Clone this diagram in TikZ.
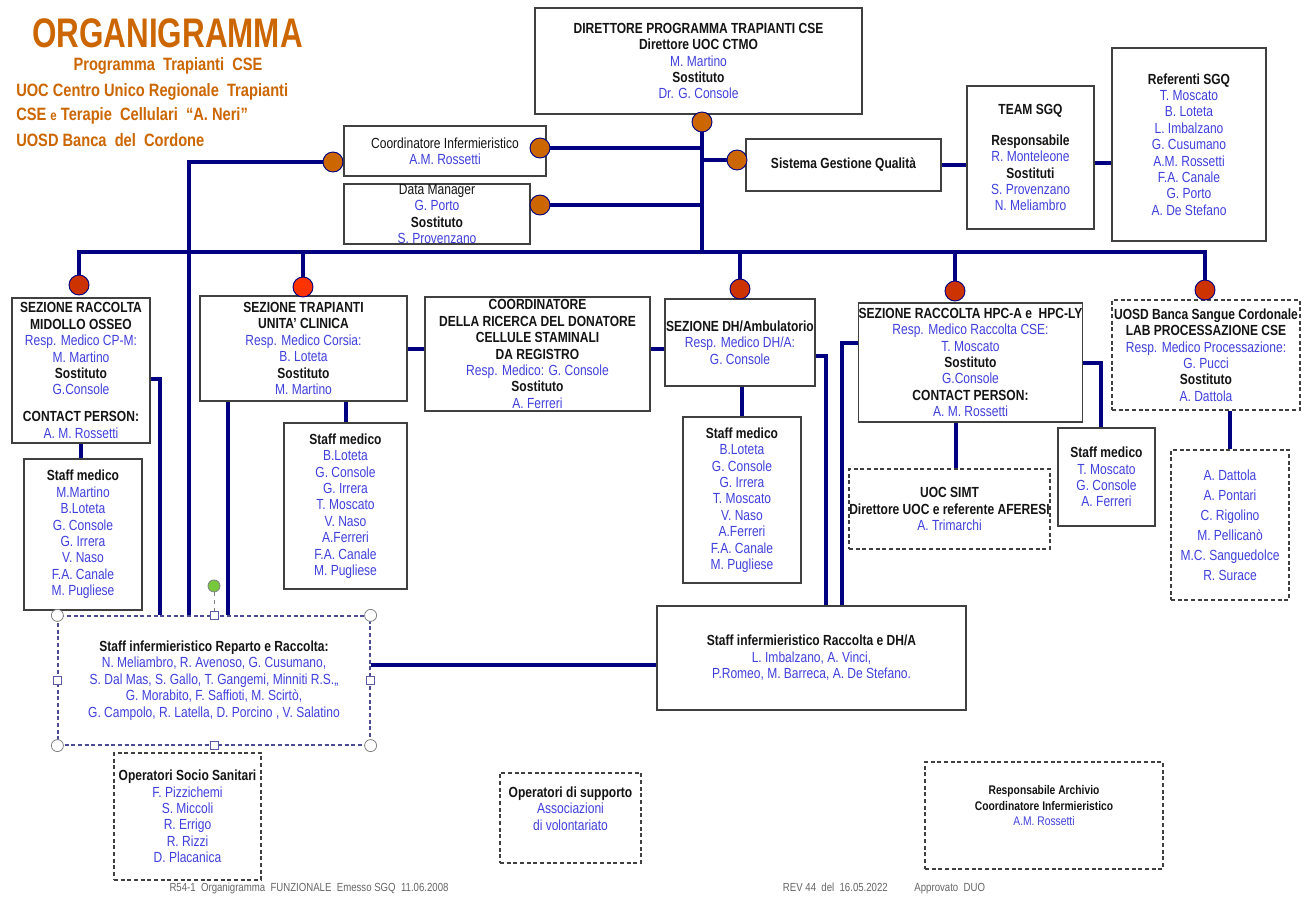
\documentclass[tikz,border=0pt]{standalone}
\usepackage{fontspec}
\setmainfont{Liberation Sans}[FakeStretch=0.82]
\newfontfamily\titlefont{Liberation Sans}[FakeStretch=0.76]
\usetikzlibrary{positioning}

\definecolor{nmblue}{RGB}{64,64,220}
\definecolor{hdblack}{RGB}{20,20,20}
\definecolor{orgorange}{RGB}{204,102,0}
\definecolor{linkblue}{RGB}{0,0,128}
\definecolor{dotred}{RGB}{204,51,0}
\definecolor{dotbright}{RGB}{255,51,0}
\definecolor{hgreen}{RGB}{120,200,60}
\newcommand{\nm}[1]{\textcolor{nmblue}{#1}}
\newcommand{\hd}[1]{\textbf{#1}}

\begin{document}
\begin{tikzpicture}[x=0.75pt,y=-0.75pt,
		box/.style={draw=black!75,line width=0.9pt,align=center,inner sep=0pt,text=hdblack,
			font=\fontsize{11}{12.3}\selectfont},
		dbox/.style={box,dash pattern=on 3pt off 2pt},
		boxsize/.style 2 args={minimum width=#1*0.75pt,minimum height=#2*0.75pt},
		link/.style={draw=linkblue,line width=3pt},
		dot/.style={circle,draw=linkblue,line width=0.7pt,inner sep=0pt,minimum size=15pt},
		sub/.style={font=\bfseries\fontsize{13.4}{13.4}\selectfont,text=orgorange,inner sep=0pt},
		foot/.style={font=\fontsize{8.8}{8.8}\selectfont,text=black!60,inner sep=0pt},
		hcirc/.style={circle,draw=gray,fill=white,line width=0.6pt,inner sep=0pt,minimum size=9pt},
		hsq/.style={rectangle,draw=gray!70!blue,fill=white,line width=0.6pt,inner sep=0pt,minimum size=6pt}]
		
		\fill[white] (0,0) rectangle (1306,896);
		\useasboundingbox (0,0) rectangle (1306,896);
		
		% titolo
		\node (ttl) [font=\titlefont\bfseries\fontsize{31}{31}\selectfont, text=orgorange, inner sep=0pt] 
			at (167.5,33) {ORGANIGRAMMA};
		\node (t1) [sub] at (168,66) {Programma\ \ Trapianti\ \ CSE};
		\node (t2) [sub, anchor=west] at (16,92) {UOC Centro Unico Regionale\ \ Trapianti};
		\node (t3) [sub, anchor=west] at (16,116) {CSE {\fontsize{10.5}{10}\selectfont e} Terapie\ \ Cellulari\ \ “A. Neri”};
		\node (t4) [sub, anchor=west] at (16,140) {UOSD Banca\ \ del\ \ Cordone};
		
		% direzione e staff
		\node (dir) [box, boxsize={327}{106}] at (698.5,61) 
			{\hd{DIRETTORE PROGRAMMA TRAPIANTI CSE}\\ \hd{Direttore UOC CTMO}\\ \nm{M. Martino}\\ \hd{Sostituto}\\ \nm{Dr. G. Console}};
		\node (coi) [box, boxsize={202}{50}] at (445,151) 
			{Coordinatore Infermieristico\\ \nm{A.M. Rossetti}};
		\node (dm) [box, boxsize={186}{60}] at (437,214) 
			{Data Manager\\ \nm{G. Porto}\\ \hd{Sostituto}\\ \nm{S. Provenzano}};
		\node (sgq) [box, boxsize={195}{52}] at (843.5,165) 
			{\hd{Sistema Gestione Qualità}};
		\node (team) [box, boxsize={127}{143}] at (1030.5,157.5) 
			{\hd{TEAM SGQ}\\[11pt] \hd{Responsabile}\\ \nm{R. Monteleone}\\ \hd{Sostituti}\\ \nm{S. Provenzano}\\ \nm{N. Meliambro}};
		\node (ref) [box, boxsize={154}{193}] at (1189,144.5) 
			{\hd{Referenti SGQ}\\ \nm{T. Moscato}\\ \nm{B. Loteta}\\ \nm{L. Imbalzano}\\ \nm{G. Cusumano}\\ \nm{A.M. Rossetti}\\ \nm{F.A. Canale}\\ \nm{G. Porto}\\ \nm{A. De Stefano}};
		
		% sezioni
		\node (rac) [box, boxsize={138}{145}] at (81,370.5) 
			{\hd{SEZIONE RACCOLTA}\\ \hd{MIDOLLO OSSEO}\\ \nm{Resp. Medico CP-M:}\\ \nm{M. Martino}\\ \hd{Sostituto}\\ \nm{G.Console}\\[8pt] \hd{CONTACT PERSON:}\\ \nm{A. M. Rossetti}};
		\node (stm1) [box, boxsize={118}{151}] at (83,534.5) 
			{\hd{Staff medico}\\ \nm{M.Martino}\\ \nm{B.Loteta}\\ \nm{G. Console}\\ \nm{G. Irrera}\\ \nm{V. Naso}\\ \nm{F.A. Canale}\\ \nm{M. Pugliese}};
		\node (tra) [box, boxsize={207}{105}] at (303.5,348.5) 
			{\hd{SEZIONE TRAPIANTI}\\ \hd{UNITA' CLINICA}\\ \nm{Resp. Medico Corsia:}\\ \nm{B. Loteta}\\ \hd{Sostituto}\\ \nm{M. Martino}};
		\node (stm2) [box, boxsize={123}{166}] at (345.5,506) 
			{\hd{Staff medico}\\ \nm{B.Loteta}\\ \nm{G. Console}\\ \nm{G. Irrera}\\ \nm{T. Moscato}\\ \nm{V. Naso}\\ \nm{A.Ferreri}\\ \nm{F.A. Canale}\\ \nm{M. Pugliese}};
		\node (crd) [box, boxsize={225}{114}] at (537.5,354) 
			{\hd{COORDINATORE}\\ \hd{DELLA RICERCA DEL DONATORE}\\ \hd{CELLULE STAMINALI}\\ \hd{DA REGISTRO}\\ \nm{Resp. Medico: G. Console}\\ \hd{Sostituto}\\ \nm{A. Ferreri}};
		\node (dh) [box, boxsize={150}{87}] at (740,342.5) 
			{\hd{SEZIONE DH/Ambulatorio}\\ \nm{Resp. Medico DH/A:}\\ \nm{G. Console}};
		\node (stm3) [box, boxsize={118}{166}] at (742,500) 
			{\hd{Staff medico}\\ \nm{B.Loteta}\\ \nm{G. Console}\\ \nm{G. Irrera}\\ \nm{T. Moscato}\\ \nm{V. Naso}\\ \nm{A.Ferreri}\\ \nm{F.A. Canale}\\ \nm{M. Pugliese}};
		\node (hpc) [box, boxsize={221}{119}] at (970.5,362.5) 
			{\hd{SEZIONE RACCOLTA HPC-A e\ \ HPC-LY}\\ \nm{Resp. Medico Raccolta CSE:}\\ \nm{T. Moscato}\\ \hd{Sostituto}\\ \nm{G.Console}\\ \hd{CONTACT PERSON:}\\ \nm{A. M. Rossetti}};
		\node (simt) [dbox, boxsize={201}{80}] at (949.5,509) 
			{\hd{UOC SIMT}\\ \hd{Direttore UOC e referente AFERESI}\\ \nm{A. Trimarchi}};
		\node (stm4) [box, boxsize={97}{98}] at (1106.5,477) 
			{\hd{Staff medico}\\ \nm{T. Moscato}\\ \nm{G. Console}\\ \nm{A. Ferreri}};
		\node (uosd) [dbox, boxsize={188}{110}] at (1206,355) 
			{\hd{UOSD Banca Sangue Cordonale}\\ \hd{LAB PROCESSAZIONE CSE}\\ \nm{Resp. Medico Processazione:}\\ \nm{G. Pucci}\\ \hd{Sostituto}\\ \nm{A. Dattola}};
		\node (lst) [dbox, boxsize={118}{150}, font=\fontsize{11}{15}\selectfont] at (1230,525) 
			{\nm{A. Dattola}\\ \nm{A. Pontari}\\ \nm{C. Rigolino}\\ \nm{M. Pellicanò}\\ \nm{M.C. Sanguedolce}\\ \nm{R. Surace}};
		
		% staff infermieristico e operatori
		\node (stinf) [dbox, draw=black!60!blue!70, boxsize={312}{129}] at (214,680.5) 
			{\hd{Staff infermieristico Reparto e Raccolta:}\\ \nm{N. Meliambro, R. Avenoso, G. Cusumano,}\\ \nm{S. Dal Mas, S. Gallo,\ T. Gangemi,\ Minniti R.S.,,}\\ \nm{G. Morabito,\ F. Saffioti, M. Scirtò,}\\ \nm{G. Campolo, R. Latella, D. Porcino , V. Salatino}};
		\node (dhA) [box, boxsize={309}{104}] at (811.5,658) 
			{\hd{Staff infermieristico Raccolta e DH/A}\\ \nm{L. Imbalzano, A. Vinci,}\\ \nm{P.Romeo, M. Barreca, A. De Stefano.}};
		\node (oss) [dbox, boxsize={147}{127}] at (187.5,816.5) 
			{\hd{Operatori Socio Sanitari}\\ \nm{F. Pizzichemi}\\ \nm{S. Miccoli}\\ \nm{R. Errigo}\\ \nm{R. Rizzi}\\ \nm{D. Placanica}};
		\node (sup) [dbox, boxsize={141}{90}] at (570.5,818) 
			{\hd{Operatori di supporto}\\ \nm{Associazioni}\\ \nm{di volontariato}\\[2pt]\mbox{}};
		\node (arc) [dbox, boxsize={238}{107}, font=\fontsize{9.4}{11.6}\selectfont] at (1044,815.5) 
			{\hd{Responsabile Archivio}\\ \hd{Coordinatore Infermieristico}\\ \nm{A.M. Rossetti}\\[3pt]\mbox{}};
		
		% pallini
		\node (cDir) [dot, fill=orgorange] at (702,122) {};
		\node (cCoR) [dot, fill=orgorange] at (540,148) {};
		\node (cCoL) [dot, fill=orgorange] at (333,162) {};
		\node (cDM) [dot, fill=orgorange] at (540,205) {};
		\node (cSGQ) [dot, fill=orgorange] at (737,160) {};
		\node (d1) [dot, fill=dotred] at (79,285) {};
		\node (d2) [dot, fill=dotbright] at (303,287) {};
		\node (d3) [dot, fill=dotred] at (740,289) {};
		\node (d4) [dot, fill=dotred] at (955,291) {};
		\node (d5) [dot, fill=dotred] at (1205,290) {};
		
		\coordinate (busL) at (79,252);
		\coordinate (busR) at (1205,252);
		
		\path [link]
		(d1) -- (busL) -- (busR) -- (d5)
		(cDir) -- (cDir |- busL)
		(d2 |- busL) -- (d2)
		(d3 |- busL) -- (d3)
		(d4 |- busL) -- (d4)
		(cCoR) -- (cCoR -| cDir)
		(cDM) -- (cDM -| cDir)
		(cSGQ) -- (cSGQ -| cDir)
		(sgq.east) -- (sgq.east -| team.west)
		([yshift=-4pt]team.east) -- ([yshift=-4pt]team.east -| ref.west)
		(cCoL) -| ([xshift=99pt]stinf.north west)
		([yshift=-6pt]rac.east) -| ([xshift=77pt]stinf.north west)
		([xshift=21.75pt]tra.south west) -- ([xshift=21.75pt]tra.south west |- stinf.north)
		(rac.south) -- (rac.south |- stm1.north)
		(tra.south -| stm2.north) -- (stm2.north)
		(tra.east) -- (tra.east -| crd.west)
		([yshift=-5pt]dh.west -| crd.east) -- ([yshift=-5pt]dh.west)
		(stm3.north |- dh.south) -- (stm3.north)
		([yshift=-10pt]dh.east) -| ([xshift=127.5pt]dhA.north west)
		([yshift=14.6pt]hpc.west) -| ([xshift=139.5pt]dhA.north west)
		([xshift=-11pt]hpc.south) -- ([xshift=-11pt]hpc.south |- simt.north)
		(hpc.east) -| ([xshift=-4pt]stm4.north)
		(lst.north |- uosd.south) -- (lst.north)
		([yshift=-5pt]dhA.west -| stinf.east) -- ([yshift=-5pt]dhA.west)
		;
		
		% maniglie di selezione
		\node (hNW) [hcirc] at (stinf.north west) {};
		\node (hNE) [hcirc] at (stinf.north east) {};
		\node (hSW) [hcirc] at (stinf.south west) {};
		\node (hSE) [hcirc] at (stinf.south east) {};
		\node (hN) [hsq] at (stinf.north) {};
		\node (hS) [hsq] at (stinf.south) {};
		\node (hW) [hsq] at (stinf.west) {};
		\node (hE) [hsq] at (stinf.east) {};
		\node (hRot) [circle, draw=gray, fill=hgreen, line width=0.6pt, inner sep=0pt, minimum size=9pt, above=14pt of hN] {};
		\draw [gray, line width=0.6pt, dashed] (hRot) -- (hN);
		
		% pie di pagina
		\node (f1) [foot] at (309,888) {R54-1\ \ Organigramma\ \ FUNZIONALE\ \ Emesso SGQ\ \ 11.06.2008};
		\node (f2) [foot] at (884,888) {REV 44\ \ del\ \ 16.05.2022\hspace{20pt}Approvato\ \ DUO};
	\end{tikzpicture}
\end{document}
